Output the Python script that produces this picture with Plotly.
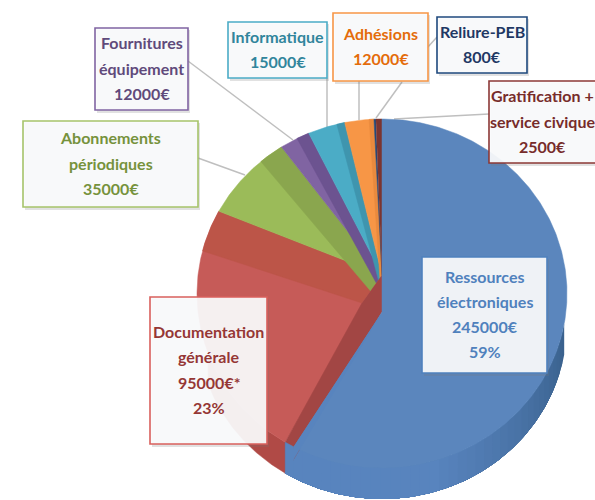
import numpy as np
import plotly.graph_objects as go

# --- data ---
names = [["Ressources", "électroniques"], ["Documentation", "générale"],
         ["Abonnements", "périodiques"], ["Fournitures", "équipement"],
         ["Informatique"], ["Adhésions"], ["Reliure-PEB"],
         ["Gratification +", "service civique"]]
values = [245000, 95000, 35000, 12000, 15000, 12000, 800, 2500]
value_suffix = ["€", "€*", "€", "€", "€", "€", "€", "€"]
show_pct = [True, True, False, False, False, False, False, False]

# --- styles ---
face = ["#5B86BD", "#C65B58", "#9BBB59", "#8064A2", "#4BACC6", "#F79646", "#1F497D", "#7B3430"]
band = [None, "#BC5548", "#8AA64E", "#6C5390", "#3F95AE", "#E98A3E", None, None]
band_deg = [0, 14, 8, 4, 2.5, 1.5, 0, 0]
text_col = ["#4F81BD", "#953735", "#76923C", "#604A7B", "#31859C", "#E46C0A", "#1F3864", "#772C2A"]
border = ["#4F81BD", "#D9605C", "#A6C46A", "#8064A2", "#4BACC6", "#F79646", "#1F497D", "#8C3836"]
boxes = [(422, 547, 257, 373), (150, 267, 297, 444), (23, 198, 121, 207), (95, 188, 28, 110),
         (228, 327, 22, 78), (333, 428, 13, 81), (437, 527, 17, 73), (489, 596, 81, 163)]
leaders = [(188, 61, 293, 140), (327, 78, 327, 127), (359, 81, 359, 120), (402, 82, 376, 118),
           (427, 48, 437, 37), (394, 119, 489, 114), (198, 158, 245, 175)]

CX, CY, RX, RY, DEPTH = 382, 293.5, 185, 174.5, 31
APEX_TOP, APEX_BLUE = 275, 312
OFFSET = (-20, 28)


def arc(a0, a1, dy=0):
    t = np.radians(np.linspace(a0, a1, max(2, int(abs(a1 - a0) * 2) + 2)))
    return CX + RX * np.sin(t), CY - RY * np.cos(t) + dy


def perspective(a):
    # foreshortening of the far side of the tilted pie
    u = 360 - a
    return a if u >= 150 else 360 - u * (0.87 + 0.13 * u / 150)


def poly(xs, ys, color, width=0.5):
    return go.Scatter(x=list(xs), y=list(ys), mode="lines", fill="toself", fillcolor=color,
                      line=dict(width=width, color=color), hoverinfo="skip", showlegend=False)


fig = go.Figure()
total = sum(values)
edges = [perspective(a) for a in np.concatenate([[0], np.cumsum(values)]) / total * 360]

# side wall of the large slice, shaded from dark (right) to light (bottom):
# each step runs on to the wall's end, so that the later ones overlap the earlier ones with no seam
a_end = edges[1]
wall_stops = np.linspace(100, a_end, 37)
for k in range(len(wall_stops) - 1):
    s = min(1, k / 20)
    col = "rgb({},{},{})".format(int(58 + 30 * s), int(98 + 34 * s), int(142 + 48 * s))
    xt, yt = arc(wall_stops[k], a_end)
    xb, yb = arc(a_end, wall_stops[k], DEPTH)
    fig.add_trace(poly(np.r_[xt, xb], np.r_[yt, yb], col, width=0))

# side wall of the second slice
xt, yt = arc(a_end, 250)
xb, yb = arc(250, a_end, DEPTH)
fig.add_trace(poly(np.r_[xt, xb], np.r_[yt, yb], "#B04A46"))

# faces of the slices behind the large one
for i in range(1, len(values)):
    xa, ya = arc(edges[i], edges[i + 1])
    fig.add_trace(poly(np.r_[CX, xa], np.r_[APEX_TOP, ya], face[i]))
    if band[i]:
        xs, ys = arc(edges[i + 1], edges[i + 1] - band_deg[i])
        k = band_deg[i] / 14
        fig.add_trace(poly(np.r_[CX, xs, CX + OFFSET[0] * k], np.r_[APEX_TOP, ys, APEX_TOP + OFFSET[1] * k], band[i]))

# cut face between the second slice and the large one
xp, yp = arc(a_end, a_end)
fig.add_trace(poly([CX, CX, xp[0], xp[0], CX + OFFSET[0]],
                   [APEX_TOP, APEX_BLUE, yp[0] + DEPTH, yp[0], APEX_TOP + OFFSET[1]], "#A24644"))

# large slice
xa, ya = arc(0, a_end - 3)
fig.add_trace(poly(np.r_[CX, xa], np.r_[APEX_BLUE, ya], face[0]))
fig.add_trace(poly([CX, xp[0], xa[-1]], [APEX_BLUE, yp[0] + DEPTH, ya[-1]], "rgb(88,132,190)"))
xw, yw = arc(a_end - 3, a_end)
fig.add_trace(poly(np.r_[xw, xw[::-1]], np.r_[yw, yw[::-1] + DEPTH], "rgb(88,132,190)"))

shapes = []
for x0, y0, x1, y1 in leaders:
    shapes.append(dict(type="line", x0=x0, y0=y0, x1=x1, y1=y1, layer="below",
                       line=dict(color="#BFBFBF", width=1.5)))

annotations = []
for i, (x0, x1, y0, y1) in enumerate(boxes):
    shapes.append(dict(type="rect", x0=x0 + 2, x1=x1 + 2, y0=y0 + 2, y1=y1 + 3, layer="above",
                       fillcolor="rgba(120,120,120,0.22)", line=dict(width=0)))
    shapes.append(dict(type="rect", x0=x0, x1=x1, y0=y0, y1=y1, layer="above",
                       fillcolor="rgba(250,251,252,0.93)", line=dict(color=border[i], width=1.6)))
    lines = list(names[i]) + [f"{values[i]}{value_suffix[i]}"]
    if show_pct[i]:
        lines.append(f"{round(values[i] / total * 100)}%")
    mid = (y0 + y1) / 2 - 1
    for j, line in enumerate(lines):
        annotations.append(dict(x=(x0 + x1) / 2, y=mid + (j - (len(lines) - 1) / 2) * 25.3, text=line,
                                showarrow=False, xanchor="center", yanchor="middle",
                                font=dict(family="Lato", size=16, color=text_col[i], weight="bold")))

fig.update_layout(width=595, height=500, margin=dict(l=0, r=0, t=0, b=0), autosize=False,
                  paper_bgcolor="white", plot_bgcolor="white", showlegend=False,
                  shapes=shapes, annotations=annotations,
                  xaxis=dict(range=[0, 595], visible=False, fixedrange=True),
                  yaxis=dict(range=[500, 0], visible=False, fixedrange=True))
fig.write_html("out.html", config=dict(displayModeBar=False),
               post_script="document.body.style.margin='0';document.documentElement.style.overflow='hidden';")
